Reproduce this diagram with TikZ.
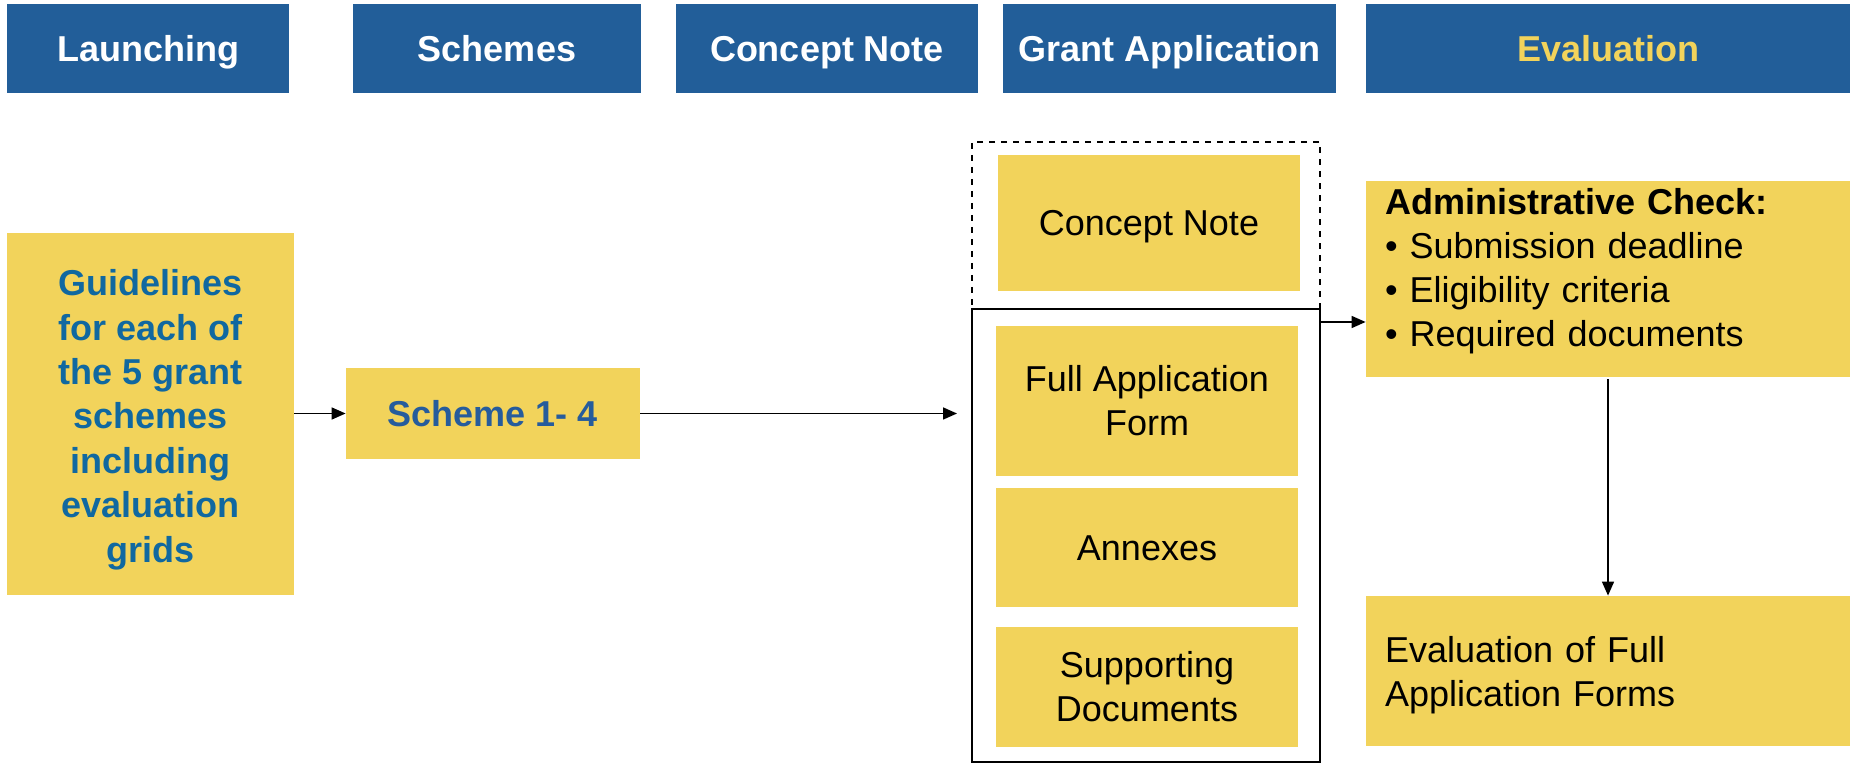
\documentclass[tikz,border=0pt]{standalone}
\usepackage{fontspec}
\setmainfont{Liberation Sans}
\usepackage{tikz}
\usetikzlibrary{arrows.meta}
\usepackage{xcolor}
\definecolor{hblue}{RGB}{34,94,153}
\definecolor{ybox}{RGB}{242,211,91}
\definecolor{gtext}{RGB}{16,104,160}
\definecolor{stext}{RGB}{38,92,156}

\begin{document}
\begin{tikzpicture}[x=0.5pt,y=-0.5pt,
    head/.style={fill=hblue,text=white,font=\bfseries\fontsize{18}{22}\selectfont,
        minimum height=44.5pt,inner sep=0pt,text height=13pt,text depth=0pt},
    box/.style={fill=ybox,font=\fontsize{18}{22}\selectfont,align=center,inner sep=0pt},
    oneline/.style={text height=13pt,text depth=0pt},
    lbox/.style={fill=ybox,font=\fontsize{18}{22}\selectfont,align=left,
        inner xsep=9.5pt,inner ysep=0pt,text width=223pt,text height=13pt},
    arr/.style={line width=0.8pt,-{Triangle[length=7pt,width=6pt]}}]
        \useasboundingbox (0,0) rectangle (1852,763);

        % header row
        \node[head,minimum width=141pt] (hlaunch) at (148,48.5) {Launching};
        \node[head,minimum width=144pt] (hschemes) at (497,48.5) {Schemes};
        \node[head,minimum width=151pt] (hconcept) at (827,48.5) {Concept Note};
        \node[head,minimum width=166.5pt] (hgrant) at (1169.5,48.5) {Grant Application};
        \node[head,minimum width=242pt,text=ybox] (heval) at (1608,48.5) {Evaluation};

        % frames round the application parts
        \node[draw,dashed,line width=0.7pt,minimum width=174pt,minimum height=83.5pt] (cnframe) at (1146,225.5) {};
        \node[draw,line width=0.8pt,minimum width=174pt,minimum height=226.5pt] (gaframe) at (1146,535.5) {};

        % launching and schemes
        \node[box,text=gtext,font=\bfseries\fontsize{18}{22.2}\selectfont,text height=151.9pt,text depth=3.8pt,
            minimum width=143.5pt,minimum height=181pt] (guide) at (150.5,414)
            {Guidelines\\for each of\\the 5 grant\\schemes\\including\\evaluation\\grids};
        \node[box,oneline,text=stext,font=\bfseries\fontsize{18}{22}\selectfont,minimum width=147pt,minimum height=45.5pt] (scheme) at (493,413.5) {Scheme 1- 4};

        % application parts
        \node[box,oneline,minimum width=151pt,minimum height=68pt] (cn) at (1149,223) {Concept Note};
        \node[box,minimum width=151pt,minimum height=75pt] (fullform) at (1147,401) {Full Application\\Form};
        \node[box,oneline,minimum width=151pt,minimum height=59.5pt] (annex) at (1147,547.5) {Annexes};
        \node[box,minimum width=151pt,minimum height=60pt] (support) at (1147,687) {Supporting\\Documents};

        % evaluation
        \node[lbox,text depth=77pt,minimum height=98pt] (admin) at (1608,279)
            {\textbf{Administrative Check:}\\• Submission deadline\\• Eligibility criteria\\• Required documents};
        \node[lbox,text depth=21pt,minimum height=75pt] (evalfull) at (1608,671) {Evaluation of Full\\Application Forms};

        % arrows
        \coordinate (gain) at (957,413.5);
        \coordinate (gaout) at (1320,322);
        \draw[arr] (guide.east |- scheme.west) -- (scheme.west);
        \draw[arr] (scheme.east) -- (gain);
        \draw[arr] (gaout) -- (gaout -| admin.west);
        \draw[arr] ([yshift=-1pt]admin.south) -- (evalfull.north);
    \end{tikzpicture}
\end{document}
